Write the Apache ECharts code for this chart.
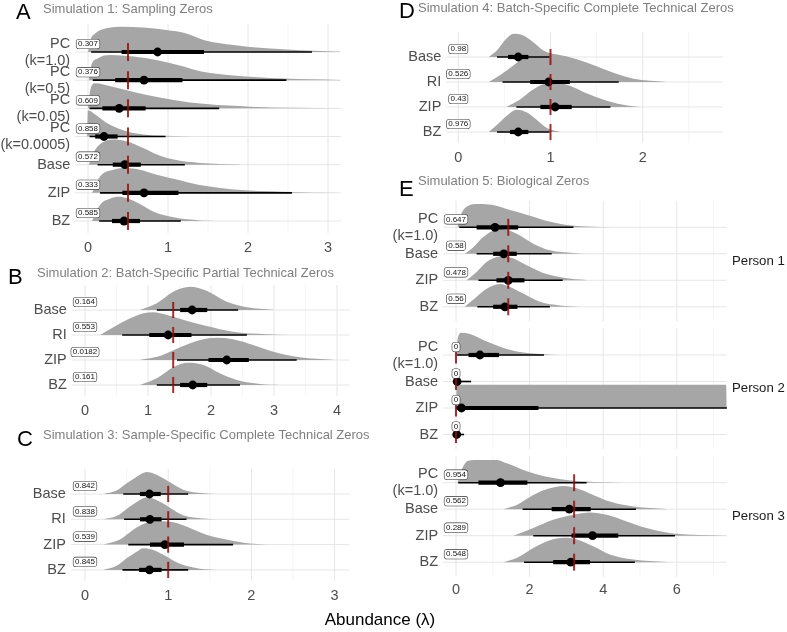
<!DOCTYPE html>
<html>
<head>
<meta charset="UTF-8">
<title>Posterior abundance by simulation</title>
<script src="https://cdn.jsdelivr.net/npm/echarts@6/dist/echarts.min.js"></script>
<style>
  html, body { margin: 0; padding: 0; background: #fff; }
  #chart { width: 787px; height: 632px; }
</style>
</head>
<body>
<div id="chart"></div>
<script>
// values: medians, 66% and 95% intervals, truth lines,
// posterior densities as [x, height in rows]

// Simulation 1
var rowsA = ['PC\n(k=1.0)', 'PC\n(k=0.5)', 'PC\n(k=0.05)', 'PC\n(k=0.0005)', 'Base', 'ZIP', 'BZ'];
var probA = ['0.307', '0.376', '0.609', '0.858', '0.572', '0.333', '0.585'];
var medA = [0.87, 0.70, 0.39, 0.20, 0.46, 0.70, 0.45];
var in66A = [[0.42, 1.45], [0.34, 1.18], [0.18, 0.72], [0.09, 0.37], [0.31, 0.66], [0.43, 1.13], [0.30, 0.65]];
var in95A = [[0.04, 2.80], [0.06, 2.48], [0.02, 1.64], [0.02, 0.97], [0.12, 1.21], [0.15, 2.55], [0.14, 1.16]];
var truthA = 0.5;
var densA = [
  [[0.0, 0], [0.03, 0.43], [0.09, 0.66], [0.23, 0.84], [0.44, 0.90], [0.69, 0.87], [0.98, 0.78], [1.23, 0.66], [1.48, 0.40], [1.82, 0.25], [2.23, 0.13], [2.65, 0.06], [3.15, 0.01]],
  [[0.01, 0], [0.04, 0.51], [0.12, 0.77], [0.28, 0.89], [0.57, 0.84], [0.90, 0.69], [1.17, 0.50], [1.40, 0.32], [1.82, 0.17], [2.44, 0.06], [3.15, 0.01]],
  [[0.0, 0], [0.03, 0.67], [0.09, 0.89], [0.19, 0.85], [0.40, 0.70], [0.69, 0.50], [1.07, 0.30], [1.48, 0.15], [2.03, 0.06], [3.15, 0.0]],
  [[-0.01, 0], [0.0, 0.93], [0.09, 0.78], [0.23, 0.49], [0.44, 0.22], [0.69, 0.07], [1.19, 0.01], [1.48, 0]],
  [[0.01, 0], [0.09, 0.53], [0.21, 0.83], [0.32, 0.89], [0.48, 0.83], [0.69, 0.59], [0.86, 0.36], [1.07, 0.18], [1.40, 0.06], [1.90, 0.01]],
  [[0.05, 0], [0.15, 0.58], [0.32, 0.82], [0.48, 0.88], [0.65, 0.82], [0.86, 0.64], [1.11, 0.47], [1.28, 0.35], [1.48, 0.24], [1.82, 0.12], [2.44, 0.04], [3.15, 0]],
  [[0.05, 0], [0.15, 0.57], [0.28, 0.80], [0.38, 0.86], [0.50, 0.80], [0.65, 0.60], [0.82, 0.33], [1.07, 0.13], [1.40, 0.02], [1.60, 0]]
];
var ticksA = [0, 1, 2, 3];
var minorA = [0.5, 1.5, 2.5];

// Simulation 2
var rowsB = ['Base', 'RI', 'ZIP', 'BZ'];
var probB = ['0.164', '0.553', '0.0182', '0.161'];
var medB = [1.70, 1.32, 2.25, 1.71];
var in66B = [[1.51, 1.94], [1.02, 1.69], [1.96, 2.60], [1.51, 1.94]];
var in95B = [[1.14, 2.43], [0.59, 2.57], [1.46, 3.36], [1.14, 2.46]];
var truthB = 1.40;
var densB = [
  [[0.87, 0], [1.14, 0.27], [1.40, 0.73], [1.67, 0.93], [1.93, 0.77], [2.25, 0.33], [2.57, 0.11], [2.99, 0.01]],
  [[0.24, 0], [0.45, 0.31], [0.66, 0.60], [0.93, 0.87], [1.08, 0.91], [1.30, 0.80], [1.61, 0.57], [1.93, 0.36], [2.35, 0.13], [2.88, 0.03], [3.25, 0]],
  [[0.87, 0], [1.19, 0.16], [1.51, 0.51], [1.83, 0.80], [2.09, 0.89], [2.35, 0.83], [2.67, 0.60], [2.99, 0.33], [3.41, 0.11], [3.94, 0.01]],
  [[0.87, 0], [1.14, 0.27], [1.40, 0.71], [1.64, 0.89], [1.88, 0.80], [2.14, 0.47], [2.41, 0.20], [2.78, 0.04], [3.10, 0]]
];
var ticksB = [0, 1, 2, 3, 4];
var minorB = [0.5, 1.5, 2.5, 3.5];

// Simulation 3
var rowsC = ['Base', 'RI', 'ZIP', 'BZ'];
var probC = ['0.842', '0.838', '0.539', '0.845'];
var medC = [0.775, 0.78, 0.96, 0.775];
var in66C = [[0.66, 0.91], [0.66, 0.92], [0.78, 1.19], [0.65, 0.92]];
var in95C = [[0.46, 1.24], [0.47, 1.22], [0.52, 1.78], [0.45, 1.24]];
var truthC = 1.0;
var densC = [
  [[0.22, 0], [0.38, 0.14], [0.52, 0.46], [0.64, 0.72], [0.74, 0.87], [0.86, 0.76], [1.02, 0.46], [1.18, 0.17], [1.42, 0.03], [1.58, 0]],
  [[0.22, 0], [0.38, 0.13], [0.52, 0.46], [0.64, 0.72], [0.74, 0.87], [0.86, 0.76], [1.02, 0.46], [1.18, 0.16], [1.42, 0.03], [1.58, 0]],
  [[0.22, 0], [0.42, 0.20], [0.58, 0.59], [0.74, 0.86], [0.90, 0.92], [1.06, 0.88], [1.26, 0.66], [1.46, 0.39], [1.70, 0.20], [1.98, 0.04], [2.18, 0]],
  [[0.22, 0], [0.38, 0.16], [0.50, 0.46], [0.62, 0.72], [0.70, 0.86], [0.82, 0.79], [0.98, 0.53], [1.14, 0.24], [1.38, 0.05], [1.58, 0]]
];
var ticksC = [0, 1, 2, 3];
var minorC = [0.5, 1.5, 2.5];

// Simulation 4
var rowsD = ['Base', 'RI', 'ZIP', 'BZ'];
var probD = ['0.98', '0.526', '0.43', '0.976'];
var medD = [0.65, 0.98, 1.05, 0.65];
var in66D = [[0.54, 0.76], [0.78, 1.21], [0.89, 1.23], [0.56, 0.76]];
var in95D = [[0.42, 0.99], [0.48, 1.74], [0.63, 1.65], [0.42, 0.99]];
var truthD = 1.0;
var densD = [
  [[0.33, 0], [0.42, 0.27], [0.51, 0.69], [0.60, 0.93], [0.70, 0.87], [0.81, 0.60], [0.92, 0.27], [1.07, 0.07], [1.18, 0]],
  [[0.33, 0], [0.45, 0.27], [0.60, 0.67], [0.74, 1.07], [0.85, 1.20], [0.99, 1.15], [1.18, 1.02], [1.39, 0.78], [1.61, 0.47], [1.90, 0.13], [2.26, 0]],
  [[0.52, 0], [0.67, 0.30], [0.81, 0.70], [0.96, 0.95], [1.07, 0.97], [1.21, 0.85], [1.39, 0.55], [1.61, 0.25], [1.83, 0.06], [1.97, 0]],
  [[0.33, 0], [0.42, 0.29], [0.54, 0.69], [0.63, 0.89], [0.74, 0.79], [0.85, 0.49], [0.96, 0.16], [1.11, 0]]
];
var ticksD = [0, 1, 2];
var minorD = [0.5, 1.5, 2.5];

// Simulation 5, three people
var rowsE = ['PC\n(k=1.0)', 'Base', 'ZIP', 'BZ'];
var people = ['Person 1', 'Person 2', 'Person 3'];
var probE1 = ['0.647', '0.58', '0.478', '0.56'];
var medE1 = [1.06, 1.30, 1.42, 1.33];
var in66E1 = [[0.56, 1.69], [1.01, 1.65], [1.10, 1.86], [1.01, 1.67]];
var in95E1 = [[0.09, 3.19], [0.56, 2.60], [0.61, 2.90], [0.58, 2.55]];
var truthE1 = 1.42;
var densE1 = [
  [[0.04, 0], [0.15, 0.53], [0.29, 0.78], [0.61, 0.88], [1.01, 0.84], [1.47, 0.65], [1.92, 0.47], [2.37, 0.28], [3.01, 0.09], [3.55, 0.03], [4.27, 0]],
  [[0.24, 0], [0.47, 0.25], [0.74, 0.63], [1.01, 0.88], [1.20, 0.94], [1.38, 0.91], [1.74, 0.69], [2.10, 0.38], [2.55, 0.13], [3.19, 0.03], [3.55, 0]],
  [[0.29, 0], [0.56, 0.31], [0.83, 0.69], [1.11, 0.88], [1.29, 0.92], [1.56, 0.82], [1.92, 0.57], [2.37, 0.28], [2.92, 0.10], [3.55, 0.01]],
  [[0.24, 0], [0.51, 0.31], [0.78, 0.63], [1.05, 0.82], [1.20, 0.86], [1.47, 0.75], [1.83, 0.50], [2.28, 0.19], [2.83, 0.05], [3.37, 0]]
];
var probE2 = ['0', '0', '0', '0'];
var medE2 = [0.65, 0.03, 0.15, 0.02];
var in66E2 = [[0.34, 1.17], [0.0, 0.10], [0.02, 2.24], [0.0, 0.08]];
var in95E2 = [[0.03, 2.39], [0.0, 0.41], [0.0, 7.36], [0.0, 0.22]];
var truthE2 = 0;
var densE2 = [
  [[0.0, 0], [0.04, 0.57], [0.15, 0.84], [0.38, 0.79], [0.74, 0.57], [1.20, 0.31], [1.65, 0.13], [2.37, 0.03], [2.83, 0]],
  null,
  [[0.0, 0], [0.02, 0.88], [7.34, 0.88], [7.36, 0]],
  null
];
var probE3 = ['0.954', '0.562', '0.289', '0.548'];
var medE3 = [1.21, 3.08, 3.71, 3.12];
var in66E3 = [[0.61, 1.94], [2.60, 3.66], [3.14, 4.41], [2.64, 3.64]];
var in95E3 = [[0.06, 3.55], [1.81, 4.89], [2.10, 5.95], [1.85, 4.86]];
var truthE3 = 3.21;
var densE3 = [
  [[0.04, 0], [0.15, 0.48], [0.33, 0.83], [0.65, 0.86], [1.10, 0.86], [1.38, 0.73], [1.83, 0.48], [2.37, 0.25], [3.01, 0.10], [3.73, 0.03], [4.82, 0]],
  [[1.29, 0], [1.65, 0.16], [2.10, 0.54], [2.55, 0.79], [2.92, 0.88], [3.28, 0.79], [3.73, 0.54], [4.18, 0.29], [4.82, 0.10], [5.73, 0.01]],
  [[1.56, 0], [2.10, 0.29], [2.64, 0.60], [3.19, 0.79], [3.64, 0.88], [4.10, 0.79], [4.64, 0.54], [5.18, 0.29], [5.90, 0.08], [7.36, 0]],
  [[1.29, 0], [1.65, 0.16], [2.10, 0.54], [2.55, 0.83], [2.92, 0.92], [3.28, 0.86], [3.73, 0.60], [4.18, 0.29], [4.82, 0.10], [5.73, 0.01]]
];
var ticksE = [0, 2, 4, 6];
var minorE = [1, 3, 5, 7];

// layout: pixel of x=0, px per unit, x range, first row baseline, row step
var panels = [
  { x0: 88, unit: 80, xmin: -0.16, xmax: 3.16, base0: 52, step: 28.17, bot: 0.43, rows: rowsA, prob: probA, med: medA, in66: in66A, in95: in95A, truth: truthA, dens: densA, ticks: ticksA, minor: minorA, labels: true, lab: 15 },
  { x0: 85, unit: 63, xmin: -0.21, xmax: 4.2, base0: 310, step: 25, bot: 0.43, rows: rowsB, prob: probB, med: medB, in66: in66B, in95: in95B, truth: truthB, dens: densB, ticks: ticksB, minor: minorB, labels: true, lab: 15 },
  { x0: 85, unit: 83.2, xmin: -0.17, xmax: 3.18, base0: 494, step: 25.3, bot: 0.43, rows: rowsC, prob: probC, med: medC, in66: in66C, in95: in95C, truth: truthC, dens: densC, ticks: ticksC, minor: minorC, labels: true, lab: 15 },
  { x0: 458.3, unit: 92.2, xmin: -0.13, xmax: 2.87, base0: 57, step: 25, bot: 0.43, rows: rowsD, prob: probD, med: medD, in66: in66D, in95: in95D, truth: truthD, dens: densD, ticks: ticksD, minor: minorD, labels: true, lab: 15 },
  { x0: 456, unit: 36.8, xmin: -0.35, xmax: 7.36, base0: 227.3, step: 26.5, bot: 0.55, rows: rowsE, prob: probE1, med: medE1, in66: in66E1, in95: in95E1, truth: truthE1, dens: densE1, ticks: ticksE, minor: minorE, labels: false, lab: 13 },
  { x0: 456, unit: 36.8, xmin: -0.35, xmax: 7.36, base0: 355, step: 26.5, bot: 0.55, rows: rowsE, prob: probE2, med: medE2, in66: in66E2, in95: in95E2, truth: truthE2, dens: densE2, ticks: ticksE, minor: minorE, labels: false, lab: 13 },
  { x0: 456, unit: 36.8, xmin: -0.35, xmax: 7.36, base0: 482.7, step: 26.5, bot: 0.55, rows: rowsE, prob: probE3, med: medE3, in66: in66E3, in95: in95E3, truth: truthE3, dens: densE3, ticks: ticksE, minor: minorE, labels: true, lab: 13 }
];

var FONT = 'Liberation Sans, Arial, Helvetica, sans-serif';
var SLAB = '#a6a6a6';
var TRUTH = 'rgba(150, 10, 10, 0.85)';

// monotone cubic outline of the slab, closed along the baseline
function slabPath(pts, yb) {
  var n = pts.length, dx = [], d = [], m = [], k;
  for (k = 0; k < n - 1; k++) {
    dx[k] = pts[k + 1][0] - pts[k][0];
    d[k] = (pts[k + 1][1] - pts[k][1]) / dx[k];
  }
  m[0] = d[0]; m[n - 1] = d[n - 2];
  for (k = 1; k < n - 1; k++) m[k] = d[k - 1] * d[k] <= 0 ? 0 : (d[k - 1] + d[k]) / 2;
  for (k = 0; k < n - 1; k++) {
    if (d[k] === 0) { m[k] = 0; m[k + 1] = 0; continue; }
    var a = m[k] / d[k], b = m[k + 1] / d[k], s = a * a + b * b;
    if (s > 9) { var t = 3 / Math.sqrt(s); m[k] = t * a * d[k]; m[k + 1] = t * b * d[k]; }
  }
  var f = function (v) { return v.toFixed(2); };
  var str = 'M' + f(pts[0][0]) + ' ' + f(yb) + ' L' + f(pts[0][0]) + ' ' + f(pts[0][1]);
  for (k = 0; k < n - 1; k++) {
    var h = dx[k] / 3;
    str += ' C' + f(pts[k][0] + h) + ' ' + f(pts[k][1] + m[k] * h) + ' ' +
      f(pts[k + 1][0] - h) + ' ' + f(pts[k + 1][1] - m[k + 1] * h) + ' ' +
      f(pts[k + 1][0]) + ' ' + f(pts[k + 1][1]);
  }
  str += ' L' + f(pts[n - 1][0]) + ' ' + f(yb) + ' Z';
  return str;
}

var grids = [], xAxes = [], yAxes = [], series = [];

panels.forEach(function (p, gi) {
  var n = p.rows.length;
  grids.push({
    left: p.x0 + p.xmin * p.unit,
    width: (p.xmax - p.xmin) * p.unit,
    top: p.base0 - p.step,
    height: (n + p.bot) * p.step
  });
  xAxes.push({ type: 'value', gridIndex: gi, min: p.xmin, max: p.xmax, show: false });
  yAxes.push({ type: 'value', gridIndex: gi, min: -1, max: n - 1 + p.bot, inverse: true, show: false });

  // vertical grid lines and tick labels
  series.push({
    type: 'custom', xAxisIndex: gi, yAxisIndex: gi, z: 1, silent: true, clip: false,
    data: p.ticks.map(function (v) { return [v, 1]; }).concat(p.minor.map(function (v) { return [v, 0]; })),
    renderItem: function (params, api) {
      var cs = params.coordSys;
      var x = api.coord([api.value(0), 0])[0];
      var major = api.value(1) === 1;
      var kids = [{
        type: 'line',
        shape: { x1: x, y1: cs.y, x2: x, y2: cs.y + cs.height },
        style: { stroke: major ? '#e6e6e6' : '#f1f1f1', lineWidth: major ? 1 : 0.7 }
      }];
      if (major && p.labels) {
        kids.push({
          type: 'text', x: x, y: cs.y + cs.height + p.lab,
          style: { text: String(api.value(0)), fill: '#4d4d4d', fontSize: 14.5, fontFamily: FONT,
            align: 'center', verticalAlign: 'middle', textAlign: 'center', textVerticalAlign: 'middle' }
        });
      }
      return { type: 'group', children: kids };
    }
  });

  // rows: slab, interval, point, truth, probability box
  series.push({
    type: 'custom', xAxisIndex: gi, yAxisIndex: gi, z: 2, silent: true, clip: false,
    data: p.med.map(function (m, i) { return [m, i]; }),
    renderItem: function (params, api) {
      var cs = params.coordSys;
      var i = params.dataIndex;
      var yb = api.coord([0, i])[1];
      var kids = [];
      kids.push({ type: 'line', z2: 0,
        shape: { x1: cs.x, y1: yb, x2: cs.x + cs.width, y2: yb },
        style: { stroke: '#e6e6e6', lineWidth: 1 } });
      kids.push({ type: 'text', z2: 0, x: cs.x - 5, y: yb,
        style: { text: p.rows[i], fill: '#4d4d4d', fontSize: 14.5, fontFamily: FONT, lineHeight: 17,
          align: 'right', verticalAlign: 'middle', textAlign: 'right', textVerticalAlign: 'middle' } });
      var dens = p.dens[i];
      if (dens) {
        var pts = dens.map(function (q) { return api.coord([q[0], i - q[1]]); });
        kids.push({ type: 'path', z2: 1, shape: { pathData: slabPath(pts, yb) }, style: { fill: SLAB } });
      }
      var a = api.coord([p.in95[i][0], i]), b = api.coord([p.in95[i][1], i]);
      kids.push({ type: 'line', z2: 3, shape: { x1: a[0], y1: yb, x2: b[0], y2: yb },
        style: { stroke: '#000', lineWidth: 1.6 } });
      a = api.coord([p.in66[i][0], i]); b = api.coord([p.in66[i][1], i]);
      kids.push({ type: 'line', z2: 4, shape: { x1: a[0], y1: yb, x2: b[0], y2: yb },
        style: { stroke: '#000', lineWidth: 4.2 } });
      var c = api.coord([p.med[i], i]);
      kids.push({ type: 'circle', z2: 5, shape: { cx: c[0], cy: yb, r: 4.4 }, style: { fill: '#000' } });
      var tx = api.coord([p.truth, i])[0], half = 0.32 * p.step;
      kids.push({ type: 'line', z2: 6, shape: { x1: tx, y1: yb - half, x2: tx, y2: yb + half },
        style: { stroke: TRUTH, lineWidth: 2 } });
      var zx = api.coord([0, i])[0];
      kids.push({ type: 'text', z2: 8, x: zx, y: yb - 8,
        style: { text: p.prob[i], fill: '#111', fontSize: 8, fontFamily: FONT, lineHeight: 9,
          backgroundColor: '#fff', borderColor: '#333', borderWidth: 0.6, borderRadius: 2.5, padding: [0, 1.5],
          align: 'center', verticalAlign: 'middle', textAlign: 'center', textVerticalAlign: 'middle' } });
      return { type: 'group', children: kids };
    }
  });
});

function txt(s, x, y, size, color, align) {
  return { type: 'text', x: x, y: y, silent: true,
    style: { text: s, fill: color, fontSize: size, fontFamily: FONT,
      align: align || 'left', verticalAlign: 'middle', textAlign: align || 'left', textVerticalAlign: 'middle' } };
}

var titles = [
  txt('A', 16, 13, 22, '#000'),
  txt('Simulation 1: Sampling Zeros', 43, 9, 13, '#7f7f7f'),
  txt('B', 8, 278, 22, '#000'),
  txt('Simulation 2: Batch-Specific Partial Technical Zeros', 37, 273, 13, '#7f7f7f'),
  txt('C', 17, 440, 22, '#000'),
  txt('Simulation 3: Sample-Specific Complete Technical Zeros', 43, 435, 13, '#7f7f7f'),
  txt('D', 399, 12, 22, '#000'),
  txt('Simulation 4: Batch-Specific Complete Technical Zeros', 418, 8, 13, '#7f7f7f'),
  txt('E', 399, 190, 22, '#000'),
  txt('Simulation 5: Biological Zeros', 418, 181, 13, '#7f7f7f'),
  txt('Abundance (λ)', 380, 620, 17, '#000', 'center')
];
people.forEach(function (name, k) {
  var p = panels[4 + k];
  var mid = p.base0 - p.step + (p.rows.length + p.bot) * p.step / 2;
  titles.push(txt(name, 732, mid, 13.2, '#1a1a1a'));
});

var chart = echarts.init(document.getElementById('chart'), null, { renderer: 'canvas' });
chart.setOption({
  animation: false,
  backgroundColor: '#fff',
  grid: grids,
  xAxis: xAxes,
  yAxis: yAxes,
  series: series,
  graphic: titles
});
</script>
</body>
</html>
